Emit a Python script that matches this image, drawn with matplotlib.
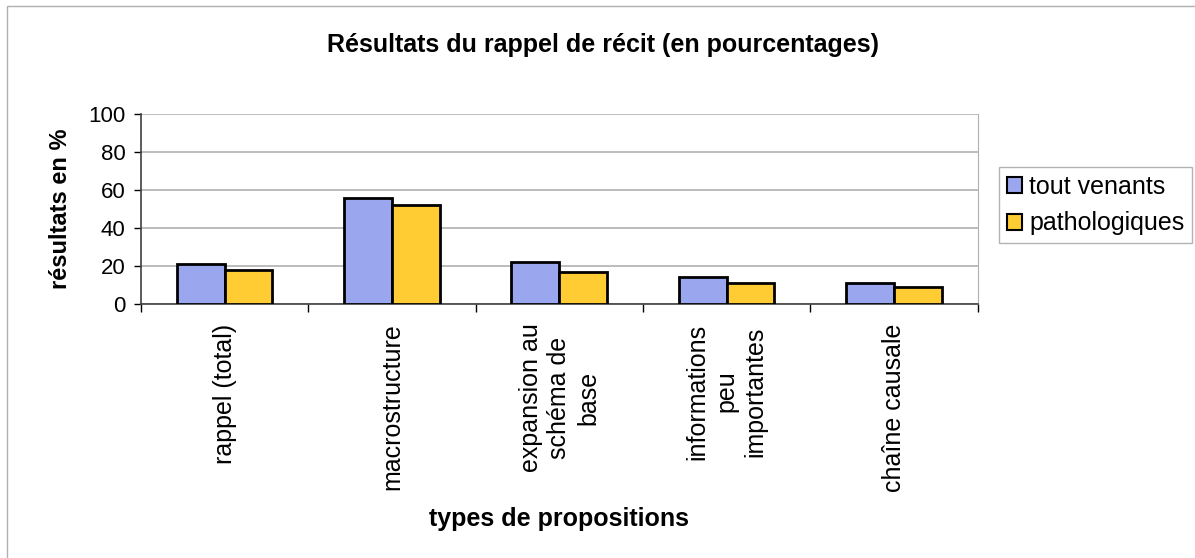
import numpy as np
import matplotlib
matplotlib.use("Agg")
import matplotlib.pyplot as plt
from matplotlib.patches import Rectangle

plt.rcParams["font.family"] = ["Liberation Sans", "DejaVu Sans"]

categories = ["rappel (total)", "macrostructure", "expansion au\nschéma de\nbase",
              "informations\npeu\nimportantes", "chaîne causale"]
tout_venants = [21, 56, 22, 14, 11]
pathologiques = [18, 52, 17, 11, 9]
series_names = ["tout venants", "pathologiques"]
y_ticks = [0, 20, 40, 60, 80, 100]

BLUE = "#9aa6ee"
YELLOW = "#ffcc33"

fig = plt.figure(figsize=(11.95, 5.58), dpi=100)
ax = fig.add_axes([0.118, 0.455, 0.700, 0.341])

x = np.arange(len(categories))
w = 1 / 3.5
ax.bar(x - w / 2, tout_venants, w, color=BLUE, edgecolor="black", linewidth=2,
       label=series_names[0], zorder=3)
ax.bar(x + w / 2, pathologiques, w, color=YELLOW, edgecolor="black", linewidth=2,
       label=series_names[1], zorder=3)

ax.set_xlim(-0.5, len(categories) - 0.5)
ax.set_ylim(0, 100)
ax.set_yticks(y_ticks)
ax.yaxis.grid(True, color="#b0b0b0", linewidth=1.2, zorder=0)
ax.tick_params(axis="y", labelsize=16, length=5, width=1, direction="out", pad=6)

ax.set_xticks(x)
ax.set_xticklabels(categories, rotation=90, fontsize=18, ha="center", va="top",
                   multialignment="center", linespacing=1.25)
ax.set_xticks(np.arange(-0.5, len(categories)), minor=True)
ax.tick_params(axis="x", which="major", length=0, pad=14)
ax.tick_params(axis="x", which="minor", length=6, width=1)

ax.spines["top"].set_visible(False)
ax.spines["right"].set_color("#b0b0b0")
ax.spines["left"].set_color("#404040")
ax.spines["bottom"].set_color("#404040")
ax.spines["left"].set_linewidth(1.2)
ax.spines["bottom"].set_linewidth(1.2)

ax.set_ylabel("résultats en %", fontsize=17, fontweight="bold", labelpad=12)
ax.set_xlabel("types de propositions", fontsize=18, fontweight="bold", labelpad=11)

fig.suptitle("Résultats du rappel de récit (en pourcentages)", x=0.505, y=0.94,
             fontsize=18, fontweight="bold")

leg = fig.legend(loc="upper left", bbox_to_anchor=(0.836, 0.70), fontsize=18,
                 frameon=True, fancybox=False, edgecolor="#a0a0a0",
                 handlelength=0.6, handleheight=0.6, handletextpad=0.3,
                 borderpad=0.3, labelspacing=0.5, borderaxespad=0)
leg.get_frame().set_linewidth(1)
for h in leg.legend_handles:
    h.set_linewidth(1.5)

fig.patches.append(Rectangle((0.006, -0.05), 1.2, 1.04, transform=fig.transFigure,
                             fill=False, edgecolor="#b0b0b0", linewidth=1))

fig.savefig("out.png", dpi=100)
